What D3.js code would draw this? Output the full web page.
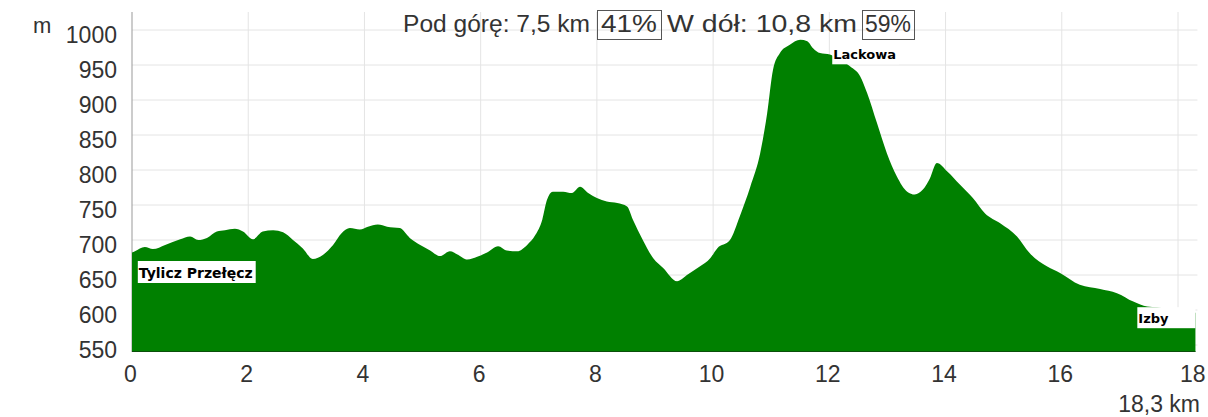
<html>
<head>
<meta charset="utf-8">
<script src="https://d3js.org/d3.v7.min.js"></script>
<style>
body { margin: 0; background: #fff; }
svg text { font-family: "Liberation Sans", Arial, sans-serif; fill: #333; }
svg text.place { font-family: "DejaVu Sans", sans-serif; font-weight: bold; fill: #000; }
</style>
</head>
<body>
<svg id="chart" width="1208" height="417"></svg>
<script>

// elevation profile (km, m)
var km   = [0, 0.05, 0.22, 0.36, 0.57, 0.83, 1.00, 1.14, 1.29, 1.46, 1.60, 1.77, 1.91, 2.08, 2.25, 2.43, 2.60, 2.77, 2.94,
            3.11, 3.29, 3.46, 3.61, 3.75, 3.92, 4.06, 4.23, 4.39, 4.61, 4.78, 4.96, 5.13, 5.30, 5.47, 5.61, 5.77, 5.94,
            6.11, 6.30, 6.45, 6.63, 6.80, 6.94, 7.06, 7.14, 7.24, 7.42, 7.57, 7.71, 7.85, 8.00, 8.17, 8.35, 8.52, 8.62,
            8.79, 8.97, 9.14, 9.38, 9.55, 9.77, 9.95, 10.07, 10.29, 10.46, 10.64, 10.81, 10.93, 11.03, 11.15, 11.32,
            11.50, 11.62, 11.72, 11.84, 12.01, 12.18, 12.36, 12.53, 12.65, 12.82, 12.99, 13.16, 13.34, 13.47, 13.61,
            13.73, 13.85, 14.03, 14.25, 14.47, 14.68, 14.94, 15.23, 15.45, 15.75, 15.97, 16.31, 16.66, 16.95, 17.23,
            17.47, 17.64, 17.95, 18.3]
var elev = [682, 684, 690, 687, 693, 701, 705, 700, 703, 712, 714, 716, 712, 701, 712, 714, 711, 700, 688,
            673, 679, 693, 710, 717, 715, 719, 722, 719, 717, 703, 693, 685, 677, 684, 679, 672, 676,
            682, 691, 685, 684, 693, 707, 729, 757, 769, 769, 767, 776, 767, 760, 755, 753, 748, 729,
            700, 674, 660, 641, 650, 662, 674, 688, 700, 734, 776, 824, 881, 943, 967, 979,
            986, 984, 974, 967, 965, 957, 948, 934, 910, 867, 824, 791, 769, 765, 772,
            788, 810, 798, 779, 760, 738, 724, 705, 681, 662, 653, 636, 630, 624, 612,
            605, 604, 599, 596]

var xTicks = [0, 2, 4, 6, 8, 10, 12, 14, 16, 18]
var yTicks = [550, 600, 650, 700, 750, 800, 850, 900, 950, 1000]
var totalKm = 18.3
var yFloor = 540

var placeNames = ["Tylicz Przełęcz", "Lackowa", "Izby"]
var placeKm    = [0.1, 12.05, 17.3]
var placeElev  = [670, 981, 604]

var upLabel = "Pod górę: 7,5 km", upPct = "41%"
var downLabel = "W dół: 10,8 km", downPct = "59%"

var svg = d3.select("#chart")

var x = d3.scaleLinear().domain([0, 18]).range([132, 1178])
var y = d3.scaleLinear().domain([550, 1000]).range([345, 30])

var gridTop = 12, bottom = y(yFloor), right = x(totalKm)

// grid
svg.append("g").selectAll("line")
	.data(yTicks).enter().append("line")
	.attr("x1", x(0)).attr("x2", right + 2)
	.attr("y1", d => y(d)).attr("y2", d => y(d))
	.attr("stroke", "#e4e4e4")

svg.append("g").selectAll("line")
	.data(xTicks.slice(1)).enter().append("line")
	.attr("x1", d => x(d)).attr("x2", d => x(d))
	.attr("y1", gridTop).attr("y2", bottom)
	.attr("stroke", "#e4e4e4")

svg.append("line")
	.attr("x1", x(0)).attr("x2", x(0))
	.attr("y1", gridTop).attr("y2", bottom)
	.attr("stroke", "#999")

// profile
var data = km.map((k, i) => ({km: k, elev: elev[i]}))

var area = d3.area()
	.x(d => x(d.km))
	.y0(bottom)
	.y1(d => y(d.elev))
	.curve(d3.curveMonotoneX)

svg.append("path")
	.datum(data)
	.attr("d", area)
	.attr("fill", "#008000")

svg.append("line")
	.attr("x1", x(0)).attr("x2", right)
	.attr("y1", bottom - 0.5).attr("y2", bottom - 0.5)
	.attr("stroke", "#0b4f0b")

// axes
var yAxis = svg.append("g")
	.attr("transform", `translate(${x(0)},5)`)
	.call(d3.axisLeft(y).tickValues(yTicks).tickFormat(d3.format("d")).tickSize(0).tickPadding(15))
yAxis.select(".domain").remove()
yAxis.selectAll("text").attr("font-size", 23).attr("font-family", null)

var xAxis = svg.append("g")
	.attr("transform", `translate(-2,${bottom})`)
	.call(d3.axisBottom(x).tickValues(xTicks).tickSize(0).tickPadding(14))
xAxis.select(".domain").remove()
xAxis.selectAll("text").attr("font-size", 23).attr("font-family", null)
xAxis.selectAll("text").filter(d => d == 18)
	.attr("text-anchor", "end")
	.attr("x", 1205 - x(18) + 2)

svg.append("text")
	.attr("x", 1200).attr("y", 412)
	.attr("text-anchor", "end")
	.attr("font-size", 23)
	.text(String(totalKm).replace(".", ",") + " km")

svg.append("text")
	.attr("x", 33).attr("y", 33)
	.attr("font-size", 22)
	.text("m")

// title with boxed percentages; [text, boxed, start x, width of text, width of box]
var pieces = [[upLabel, false, 403, 187], [upPct, true, 597, 56, 64], [downLabel, false, 667, 190], [downPct, true, 862, 46, 52]]
pieces.forEach(function(p) {
	var t = svg.append("text")
		.attr("x", p[1] ? p[2] + (p[4] - p[3]) / 2 : p[2]).attr("y", 32)
		.attr("font-size", 23)
		.attr("textLength", p[3])
		.attr("lengthAdjust", "spacingAndGlyphs")
		.text(p[0])
	if (p[1]) {
		svg.insert("rect", () => t.node())
			.attr("x", p[2] + 0.5).attr("y", 10.5)
			.attr("width", p[4]).attr("height", 29)
			.attr("fill", "none")
			.attr("stroke", "#555")
	}
})

// place labels
placeNames.forEach(function(name, i) {
	var g = svg.append("g")
		.attr("transform", `translate(${x(placeKm[i])},${y(placeElev[i])})`)
	var fs = i == 0 ? 14 : 13
	var t = g.append("text")
		.attr("class", "place")
		.attr("x", 1).attr("y", fs + 3)
		.attr("font-size", fs)
		.text(name)
	var w = t.node().getComputedTextLength()
	g.insert("rect", () => t.node())
		.attr("width", i == 2 ? x(totalKm) - x(placeKm[i]) : w + 4)
		.attr("height", fs + 8)
		.attr("fill", "#fff")
})

</script>
</body>
</html>
